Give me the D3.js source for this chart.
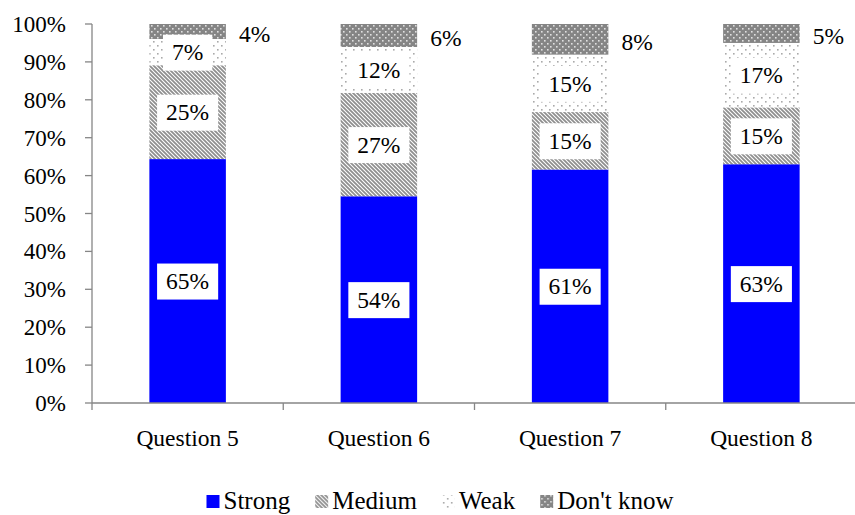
<!DOCTYPE html>
<html><head><meta charset="utf-8">
<script src="https://cdn.jsdelivr.net/npm/d3@7"></script>
<style>body{margin:0;background:#fff}svg{display:block}</style>
</head><body>
<svg id="c" width="855" height="515"></svg>
<script>
const categories = ["Question 5","Question 6","Question 7","Question 8"];
const seriesNames = ["Strong","Medium","Weak","Don't know"];
const strong = [65,54,61,63];
const medium = [25,27,15,15];
const weak = [7,12,15,17];
const dontKnow = [4,6,8,5];
const yTicks = [0,10,20,30,40,50,60,70,80,90,100];

const svg = d3.select("#c");
const font = "'Liberation Serif', 'Times New Roman', serif";
const M = {l:92, r:857, t:24, b:403};

const defs = svg.append("defs");
const pM = defs.append("pattern").attr("id","pMed").attr("patternUnits","userSpaceOnUse").attr("width",4).attr("height",4);
pM.append("rect").attr("width",4).attr("height",4).attr("fill","#fff");
pM.append("path").attr("d","M-1,-1 L5,5 M-1,3 L1,5 M3,-1 L5,1").attr("stroke","#8f8f8f").attr("stroke-width",1.8);
const pW = defs.append("pattern").attr("id","pWeak").attr("patternUnits","userSpaceOnUse").attr("width",8).attr("height",8);
pW.append("rect").attr("width",8).attr("height",8).attr("fill","#fff");
pW.append("rect").attr("x",1).attr("y",1).attr("width",1.6).attr("height",1.6).attr("fill","#aaa");
pW.append("rect").attr("x",5).attr("y",5).attr("width",1.6).attr("height",1.6).attr("fill","#aaa");
const pD = defs.append("pattern").attr("id","pDk").attr("patternUnits","userSpaceOnUse").attr("width",6).attr("height",6);
pD.append("rect").attr("width",6).attr("height",6).attr("fill","#858585");
pD.append("rect").attr("x",1).attr("y",1).attr("width",1.6).attr("height",1.6).attr("fill","#e0e0e0");
pD.append("rect").attr("x",4).attr("y",4).attr("width",1.6).attr("height",1.6).attr("fill","#e0e0e0");

const fills = ["#0000FF","url(#pMed)","url(#pWeak)","url(#pDk)"];

const rows = categories.map((c,i)=>({cat:c, s0:strong[i], s1:medium[i], s2:weak[i], s3:dontKnow[i]}));
const stack = d3.stack().keys(["s0","s1","s2","s3"]).offset(d3.stackOffsetExpand);
const layers = stack(rows);

const x = d3.scaleBand().domain(categories).range([M.l,M.r]).paddingInner(0.6).paddingOuter(0.3);
const xb = d3.scaleBand().domain(categories).range([M.l,M.r]);
const y = d3.scaleLinear().domain([0,1]).range([M.b,M.t]);

layers.forEach((L,k)=>{
  svg.append("g").selectAll("rect").data(L).join("rect")
    .attr("x",d=>x(d.data.cat)).attr("width",x.bandwidth())
    .attr("y",d=>y(d[1])).attr("height",d=>y(d[0])-y(d[1]))
    .attr("fill",fills[k]);
});

const ax = svg.append("g");
const axC = "#868686";
ax.append("line").attr("x1",M.l).attr("x2",M.l).attr("y1",M.t).attr("y2",M.b).attr("stroke",axC).attr("stroke-width",1.3);
ax.append("line").attr("x1",M.l).attr("x2",M.r).attr("y1",M.b).attr("y2",M.b).attr("stroke",axC).attr("stroke-width",1.3);
yTicks.forEach(t=>{
  const yy = y(t/100);
  ax.append("line").attr("x1",M.l-7).attr("x2",M.l).attr("y1",yy).attr("y2",yy).attr("stroke",axC).attr("stroke-width",1.3);
  ax.append("text").attr("x",66).attr("y",yy).attr("dy","0.35em").attr("text-anchor","end")
    .attr("font-family",font).attr("font-size",23).text(t+"%");
});
categories.forEach((c,i)=>{
  const bx = xb(c);
  ax.append("line").attr("x1",bx).attr("x2",bx).attr("y1",M.b).attr("y2",M.b+7).attr("stroke",axC).attr("stroke-width",1.3);
  if(i===categories.length-1) ax.append("line").attr("x1",bx+xb.bandwidth()).attr("x2",bx+xb.bandwidth()).attr("y1",M.b).attr("y2",M.b+7).attr("stroke",axC).attr("stroke-width",1.3);
  ax.append("text").attr("x",bx+xb.bandwidth()/2).attr("y",446).attr("text-anchor","middle")
    .attr("font-family",font).attr("font-size",23.5).text(c);
});

const vals = [strong,medium,weak,dontKnow];
layers.forEach((L,k)=>{
  L.forEach((d,i)=>{
    const txt = vals[k][i]+"%";
    const cy = (y(d[0])+y(d[1]))/2;
    if(k<3){
      const cx = x(d.data.cat)+x.bandwidth()/2;
      const g = svg.append("g");
      const t = g.append("text").attr("x",cx).attr("y",cy).attr("dy","0.35em").attr("text-anchor","middle")
        .attr("font-family",font).attr("font-size",23.5).text(txt);
      const w = t.node().getComputedTextLength();
      g.insert("rect","text").attr("x",cx-w/2-9).attr("y",cy-17.5).attr("width",w+18).attr("height",36).attr("fill","#fff");
    } else {
      svg.append("text").attr("x",x(d.data.cat)+x.bandwidth()+13).attr("y",cy+2).attr("dy","0.35em")
        .attr("font-family",font).attr("font-size",23.5).text(txt);
    }
  });
});

const lg = svg.append("g");
let cur = 0;
seriesNames.forEach((n,k)=>{
  const g = lg.append("g").attr("transform",`translate(${cur},0)`);
  g.append("rect").attr("x",0).attr("y",-14).attr("width",13).attr("height",13).attr("fill",fills[k]);
  const t = g.append("text").attr("x",17).attr("y",0).attr("font-family",font).attr("font-size",25).text(n);
  cur += 17 + t.node().getComputedTextLength() + 25;
});
const totalW = cur - 25;
lg.attr("transform",`translate(${440-totalW/2},509)`);
</script>
</body></html>
